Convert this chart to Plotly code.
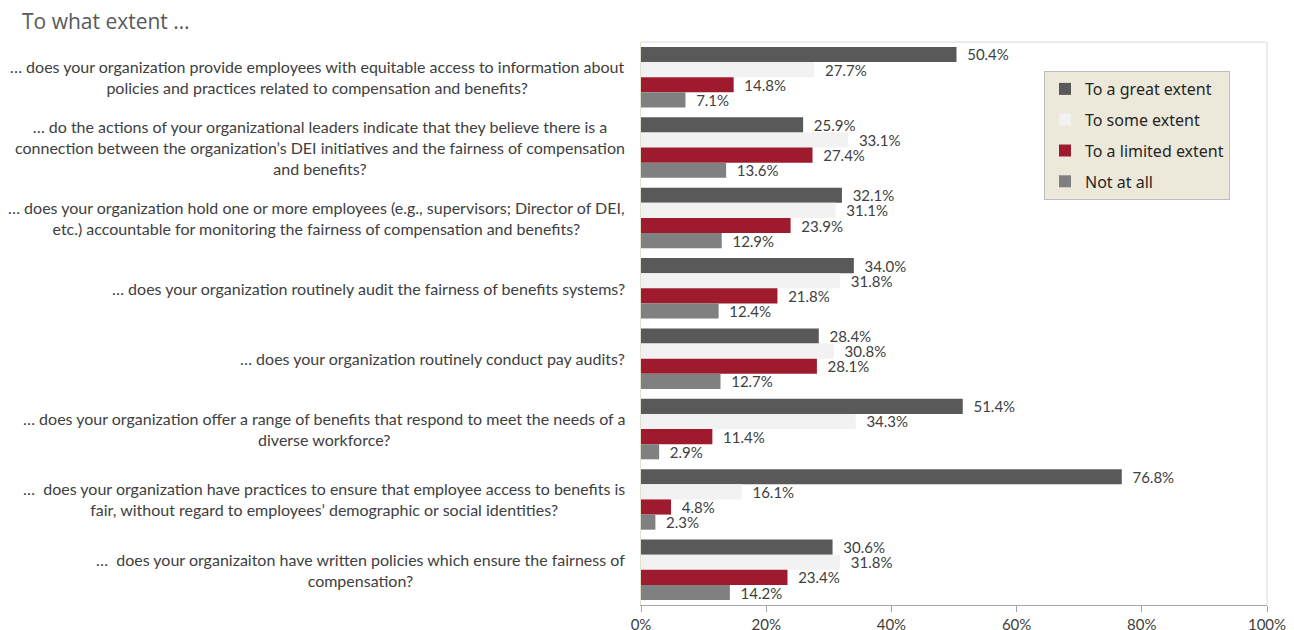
import plotly.graph_objects as go

categories = [
    "… does your organization provide employees with equitable access to information about<br>policies and practices related to compensation and benefits?",
    "… do the actions of your organizational leaders indicate that they believe there is a<br>connection between the organization’s DEI initiatives and the fairness of compensation<br>and benefits?",
    "… does your organization hold one or more employees (e.g., supervisors; Director of DEI,<br>etc.) accountable for monitoring the fairness of compensation and benefits?",
    "… does your organization routinely audit the fairness of benefits systems?",
    "… does your organization routinely conduct pay audits?",
    "… does your organization offer a range of benefits that respond to meet the needs of a<br>diverse workforce?",
    "…  does your organization have practices to ensure that employee access to benefits is<br>fair, without regard to employees’ demographic or social identities?",
    "…  does your organizaiton have written policies which ensure the fairness of<br>compensation?",
]

series_names = ["To a great extent", "To some extent", "To a limited extent", "Not at all"]
great = [50.4, 25.9, 32.1, 34.0, 28.4, 51.4, 76.8, 30.6]
some = [27.7, 33.1, 31.1, 31.8, 30.8, 34.3, 16.1, 31.8]
limited = [14.8, 27.4, 23.9, 21.8, 28.1, 11.4, 4.8, 23.4]
not_at_all = [7.1, 13.6, 12.9, 12.4, 12.7, 2.9, 2.3, 14.2]
series_values = [great, some, limited, not_at_all]
colors = ["#595959", "#F2F2F2", "#9E1B2E", "#808080"]

x_ticks = [0, 20, 40, 60, 80, 100]
x_tick_labels = ["0%", "20%", "40%", "60%", "80%", "100%"]

ids = list(range(len(categories)))

# page body has an 8px margin, so the figure is 8px smaller than the window
W, H = 1286, 622
ML, MR, MT, MB = 633, 27, 34, 25
PW, PH = W - ML - MR, H - MT - MB

fig = go.Figure()
for name, vals, col in zip(series_names, series_values, colors):
    fig.add_trace(go.Bar(
        y=ids, x=vals, orientation="h", name=name,
        marker=dict(color=col, line=dict(width=0)),
        text=["\u00a0\u00a0" + f"{v:.1f}%" for v in vals], textposition="outside",
        constraintext="none",
        textfont=dict(family="Lato", size=15, color="#404040"),
        cliponaxis=False, legendgroup=name,
    ))

annotations = []
for i, c in enumerate(categories):
    annotations.append(dict(
        x=0, xref="paper", y=i, yref="y", xanchor="right", yanchor="middle",
        xshift=-14, text=c, showarrow=False, align="center",
        font=dict(family="Lato", size=16, color="#404040"),
    ))

fig.update_layout(
    width=W, height=H,
    margin=dict(l=ML, r=MR, t=MT, b=MB, autoexpand=False),
    paper_bgcolor="white", plot_bgcolor="white",
    barmode="group", bargap=0.14, bargroupgap=0,
    title=dict(text="To what extent …", x=14 / W, xanchor="left",
               y=1 - 14 / H, yanchor="middle",
               font=dict(family="Open Sans", size=21, color="#595959")),
    xaxis=dict(range=[0, 100], tickvals=x_ticks, ticktext=x_tick_labels,
               showgrid=False, zeroline=False, showline=True, linecolor="#A6A6A6",
               linewidth=1, ticks="outside", ticklen=6, tickcolor="#A6A6A6",
               tickfont=dict(family="Lato", size=15, color="#404040"), mirror=False),
    yaxis=dict(range=[7.5, -0.5], showticklabels=False, showgrid=False, zeroline=False,
               showline=True, linecolor="#E6E1CC", linewidth=1),
    legend=dict(x=(1036 - ML) / PW, y=(MT + PH - 63) / PH, xanchor="left", yanchor="top",
                bgcolor="#EDE9DA", bordercolor="#BDBDBD", borderwidth=1,
                font=dict(family="Noto Sans", size=16, color="#262626"),
                tracegroupgap=7, itemwidth=30),
    annotations=annotations,
    showlegend=True,
)

fig.add_shape(type="line", xref="paper", yref="paper", x0=0, x1=1, y0=1, y1=1,
              line=dict(color="#D9D9D9", width=1))
fig.add_shape(type="line", xref="paper", yref="paper", x0=1, x1=1, y0=0, y1=1,
              line=dict(color="#D9D9D9", width=1))

fig.write_html("out.html")
